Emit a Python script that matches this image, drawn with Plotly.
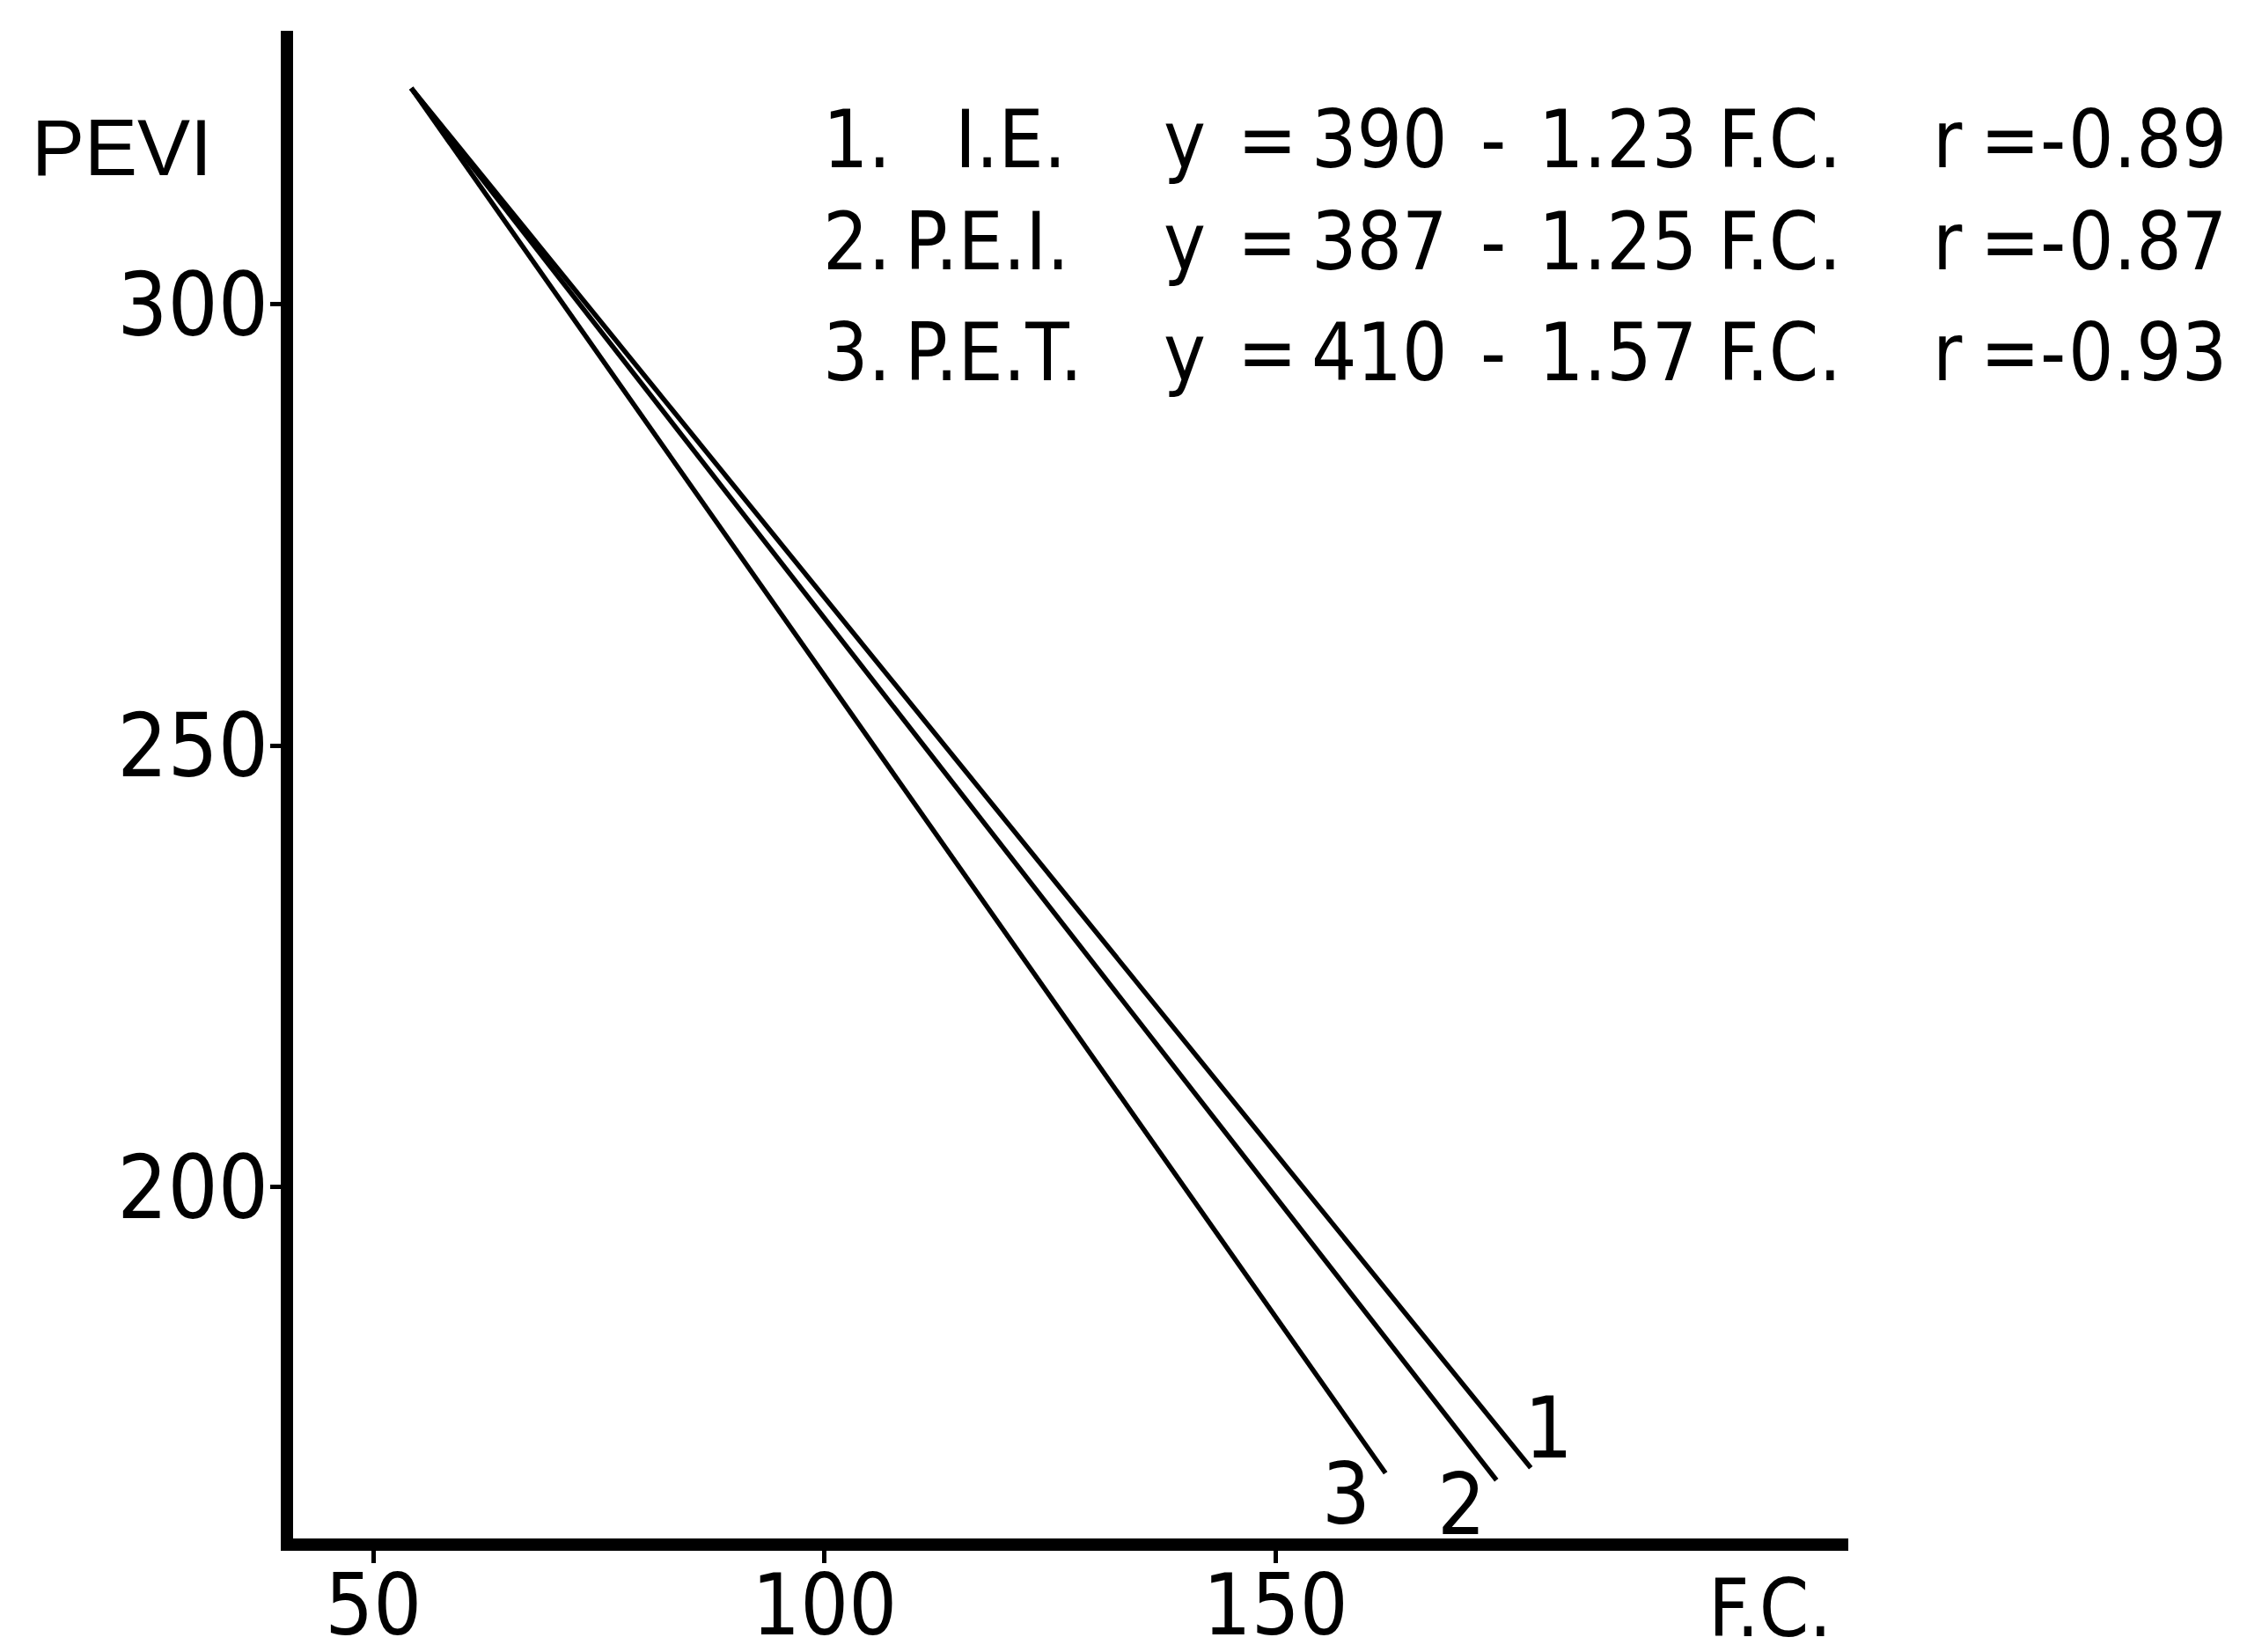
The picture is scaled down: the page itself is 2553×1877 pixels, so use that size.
import plotly.graph_objects as go

# ---- data ----
series_names = ["1", "2", "3"]
legend_labels = ["I.E.", "P.E.I.", "P.E.T."]
intercepts = ["390", "387", "410"]
slopes = ["1.23", "1.25", "1.57"]
r_values = ["0.89", "0.87", "0.93"]   # all negative (shown as "r =-0.89" etc.)

fc_start = [54.2, 54.2, 54.2]
fc_end = [178.3, 174.5, 162.2]
pevi_start = [324.5, 324.5, 324.5]
pevi_end = [168.2, 166.8, 167.6]

x_ticks = [50, 100, 150]
y_ticks = [200, 250, 300]
x_title = "F.C."
y_title = "PEVI"

# ---- layout geometry (pixels) ----
W, H = 2553, 1877
L, R, T, B = 325, 2092, 27, 1740   # plot area edges

def px(xp):
    return (xp - L) / (R - L)

def py(yp):
    return (B - yp) / (B - T)

FONT = "DejaVu Sans Condensed, Liberation Sans Narrow, DejaVu Sans, sans-serif"

fig = go.Figure()
for i in range(3):
    fig.add_trace(go.Scatter(
        x=[fc_start[i], fc_end[i]], y=[pevi_start[i], pevi_end[i]],
        mode="lines", line=dict(color="black", width=5.5),
        showlegend=False, hoverinfo="skip"))

ann = []
# line number labels near line ends
label_shift = [(20, 45), (-40, -28), (-45, -24)]
for i in range(3):
    ann.append(dict(x=fc_end[i], y=pevi_end[i], xref="x", yref="y",
                    text=series_names[i], showarrow=False,
                    xshift=label_shift[i][0], yshift=label_shift[i][1],
                    font=dict(family=FONT, size=96, color="black")))

# equation block
row_y = [150, 266, 392]
name_x = [1075, 1018, 1018]
for i in range(3):
    yy = py(row_y[i])
    tokens = [
        (925, series_names[i] + "."),
        (name_x[i], legend_labels[i]),
        (1312, "y"),
        (1396, "="),
        (1480, intercepts[i]),
        (1672, "-"),
        (1738, slopes[i]),
        (1942, "F.C."),
        (2186, "r"),
        (2240, "="),
        (2308, "-"),
        (2340, r_values[i]),
    ]
    for xp, t in tokens:
        ann.append(dict(x=px(xp), y=yy, xref="paper", yref="paper",
                        text=t, showarrow=False, xanchor="left", yanchor="middle",
                        font=dict(family=FONT, size=90, color="black")))

# axis titles
ann.append(dict(x=px(130), y=py(160), xref="paper", yref="paper", text=y_title,
                showarrow=False, xanchor="center", yanchor="middle",
                font=dict(family="Liberation Sans, sans-serif", size=90, color="black")))
ann.append(dict(x=px(2003), y=py(1874), xref="paper", yref="paper", text=x_title,
                showarrow=False, xanchor="center", yanchor="bottom",
                font=dict(family=FONT, size=90, color="black")))

fig.update_layout(
    template="none",
    width=W, height=H,
    margin=dict(l=L, r=W - R, t=T, b=H - B, pad=0, autoexpand=False),
    paper_bgcolor="white", plot_bgcolor="white",
    showlegend=False,
    annotations=ann,
    xaxis=dict(range=[41.1, 213.5], tickvals=x_ticks, ticktext=[str(v) for v in x_ticks],
               automargin=False,
               showline=True, linecolor="black", linewidth=14, showgrid=False, zeroline=False,
               ticks="outside", ticklen=14, tickwidth=5, tickcolor="black",
               ticklabelstandoff=-34,
               tickfont=dict(family=FONT, size=96, color="black")),
    yaxis=dict(range=[160.2, 331.0], tickvals=y_ticks, ticktext=[str(v) for v in y_ticks],
               automargin=False,
               showline=True, linecolor="black", linewidth=14, showgrid=False, zeroline=False,
               ticks="outside", ticklen=12, tickwidth=5, tickcolor="black",
               ticklabelstandoff=-18,
               tickfont=dict(family=FONT, size=100, color="black")),
)

fig.write_html("out.html")
